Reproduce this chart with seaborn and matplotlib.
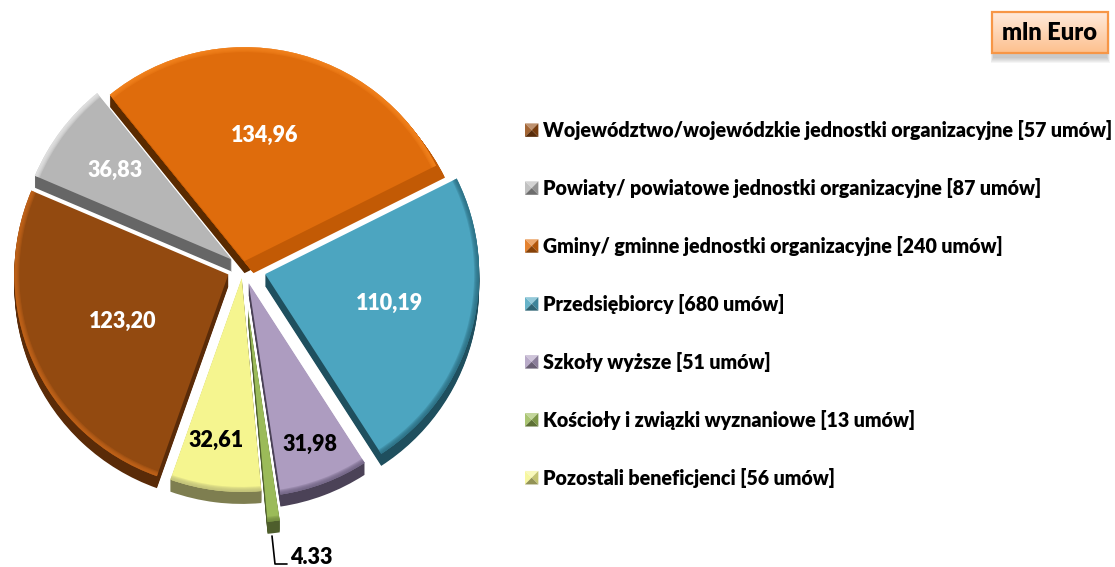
import matplotlib
matplotlib.use('Agg')
import numpy as np
import seaborn as sns
import matplotlib.pyplot as plt
from matplotlib.legend_handler import HandlerBase
from matplotlib.patches import Polygon, Rectangle
from matplotlib.colors import to_rgb

sns.set_theme(style='white')
plt.rcParams['font.family'] = ['Lato', 'DejaVu Sans']

W, H = 1115, 567

labels = ['Województwo/wojewódzkie jednostki organizacyjne [57 umów]',
          'Powiaty/ powiatowe jednostki organizacyjne [87 umów]',
          'Gminy/ gminne jednostki organizacyjne [240 umów]',
          'Przedsiębiorcy [680 umów]',
          'Szkoły wyższe [51 umów]',
          'Kościoły i związki wyznaniowe [13 umów]',
          'Pozostali beneficjenci [56 umów]']
values = [123.20, 36.83, 134.96, 110.19, 31.98, 4.33, 32.61]
value_text = ['123,20', '36,83', '134,96', '110,19', '31,98', '4.33', '32,61']
text_colors = ['white', 'white', 'white', 'white', 'black', 'black', 'black']
text_pos = [(123, 321), (115, 170), (265, 135), (389, 303), (310, 444), (311, 557), (216, 440)]

top_colors = ['#934a10', '#b6b6b6', '#df6c0c', '#4ca5c0', '#ad9cc0', '#9bbb59', '#f5f58f']
side_colors = ['#5a2b08', '#666666', '#5a2a00', '#1f4f5e', '#4b4257', '#4e5e2c', '#7e7e50']
side2_colors = ['none', 'none', '#c25a05', 'none', 'none', 'none', 'none']
rim_colors = ['#c8661a', '#e8e8e8', '#f5851f', '#2a6c80', '#6d6080', '#70883e', '#bcbc78']
explode = [16, 14, 7, 23, 16, 41, 10]

center = (243, H - 268)
radius = 214
depth = 12

fig = plt.figure(figsize=(W / 100, H / 100), dpi=100)
ax = fig.add_axes([0, 0, 1, 1])

pie_args = dict(startangle=250.5, counterclock=False, explode=explode, radius=radius)
flat = dict(linewidth=0)

# side of the pie: same slices pushed down step by step
for d in range(depth, 0, -1):
    ax.pie(values, colors=side_colors, center=(center[0], center[1] - d),
           wedgeprops=flat, **pie_args)
for d in range(depth, 0, -1):
    ax.pie(values, colors=side2_colors, center=(center[0] + 0.75 * d, center[1] - d),
           wedgeprops=flat, **pie_args)

wedges, _ = ax.pie(values, colors=sns.color_palette(top_colors), center=center,
                   wedgeprops=flat, **pie_args)

# soft bevel along the rim
for w in [5, 4, 3, 2, 1]:
    rim = [(*to_rgb(c), 0.3) for c in rim_colors]
    ax.pie(values, colors=rim, center=center, wedgeprops=dict(width=w, linewidth=0), **pie_args)

ax.set_xlim(0, W)
ax.set_ylim(0, H)
ax.set_aspect('equal')
ax.axis('off')

for txt, col, (x, y) in zip(value_text, text_colors, text_pos):
    ax.text(x, H - y, txt, color=col, fontsize=15.5, family='Lato', weight=800, ha='center', va='center')

# leader line of the smallest slice
ax.plot([272, 275, 287], [H - 536, H - 564, H - 564], color='black', lw=1.2)


class BevelHandler(HandlerBase):
    def create_artists(self, legend, orig, xd, yd, width, height, fontsize, trans):
        col = np.array(to_rgb(orig.get_facecolor()))
        x0, y0, x1, y1 = -xd, -yd, -xd + width, -yd + height
        mx, my = (x0 + x1) / 2, (y0 + y1) / 2
        sides = [([x0, y1], [x1, y1], col * 0.6 + 0.4),
                 ([x0, y0], [x0, y1], col * 0.85 + 0.15),
                 ([x1, y0], [x1, y1], col * 0.8),
                 ([x0, y0], [x1, y0], col * 0.6)]
        return [Polygon([a, b, (mx, my)], closed=True, facecolor=c, edgecolor='none',
                        transform=trans) for a, b, c in sides]


leg = ax.legend(wedges, labels, loc='upper left', bbox_to_anchor=(525 / W, 1 - 120 / H),
                frameon=False, handler_map={type(wedges[0]): BevelHandler()},
                prop=dict(family='Lato', weight=800, size=14.15),
                labelspacing=1.93, handlelength=0.68, handleheight=0.68, handletextpad=0.25,
                borderpad=0, borderaxespad=0)
for t in leg.get_texts():
    t.set_color('black')

# unit box
for i in range(6):
    ax.add_patch(Rectangle((993 - i / 2, H - 58 - i), 114 + i, 40, facecolor='#404040',
                           alpha=0.05, edgecolor='none'))
grad = np.linspace(0, 1, 40)[:, None, None] * (np.array(to_rgb('#fdc08e')) - np.array(to_rgb('#ffeadb'))) \
    + np.array(to_rgb('#ffeadb'))
ax.imshow(grad, extent=(992, 1108, H - 53, H - 12), aspect='auto', zorder=2)
ax.add_patch(Rectangle((992, H - 53), 116, 41, facecolor='none', edgecolor='#f79646', lw=1.6, zorder=3))
ax.text(1050, H - 33, 'mln Euro', color='black', fontsize=17, family='Lato', weight=800,
        ha='center', va='center', zorder=4)
ax.set_xlim(0, W)
ax.set_ylim(0, H)

fig.savefig('out.png', dpi=100)
